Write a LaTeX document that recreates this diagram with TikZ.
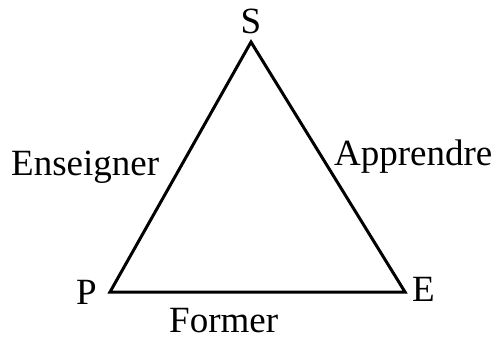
\documentclass[tikz,border=0pt]{standalone}
\usepackage{fontspec}
\setmainfont{Liberation Serif}
\usepackage{tikz}
\usetikzlibrary{positioning}

\begin{document}
\begin{tikzpicture}[
    x=1pt, y=-1pt,
    side/.style={line width=3pt, line join=miter},
    lbl/.style={inner sep=0pt, font=\fontsize{37}{40}\selectfont}
]
\useasboundingbox (0,0) rectangle (498,340);

% Corners
\coordinate (s) at (251, 42);
\coordinate (p) at (110, 292);
\coordinate (e) at (405, 292);

% Triangle
\draw[side] (s) -- (e) -- (p) -- cycle;

% Corner labels
\node[lbl, anchor=base] (slbl) at (251, 33) {S};
\node[lbl, anchor=base west] (plbl) at (76, 304) {P};
\node[lbl, anchor=base west] (elbl) at (412, 301) {E};

% Side labels
\node[lbl, anchor=base west] (ens) at (11, 175) {Enseigner};
\node[lbl, anchor=base west] (app) at (334, 165) {Apprendre};
\node[lbl, anchor=base west] (form) at (169, 332) {Former};

\end{tikzpicture}
\end{document}
